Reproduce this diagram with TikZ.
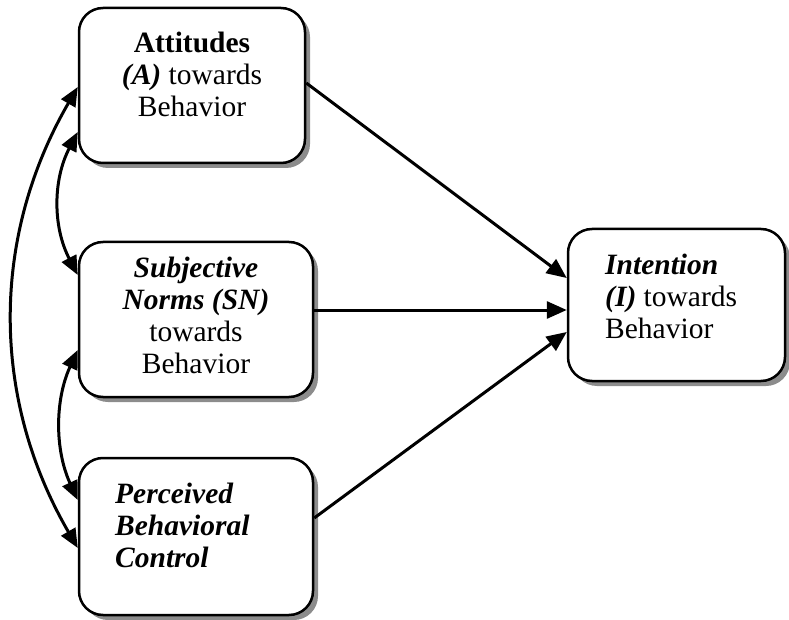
\documentclass[tikz,border=0pt]{standalone}
\usepackage{fontspec}
\setmainfont{Liberation Serif}
\usetikzlibrary{arrows.meta,shadows}
\begin{document}
\begin{tikzpicture}[x=1pt,y=-1pt,
  box/.style={draw=black, line width=2.5pt, rounded corners=24pt, fill=white, inner sep=0pt,
    drop shadow={shadow xshift=5pt, shadow yshift=-5pt, fill=black!45, opacity=1}},
  txt/.style={inner sep=0pt, font=\fontsize{29.5}{32}\selectfont},
  tip/.style={},
  link/.style={line width=3pt, -{Triangle[length=20pt,width=17pt]}},
  both/.style={line width=3pt, {Triangle[length=19pt,width=16pt]}-{Triangle[length=19pt,width=16pt]}}]
\useasboundingbox (0,0) rectangle (789,620);

% boxes
\node[box, minimum width=226pt, minimum height=155pt] (A)   at (192,85.5)  {};
\node[box, minimum width=234pt, minimum height=155pt] (SN)  at (196,319.5) {};
\node[box, minimum width=234pt, minimum height=157pt] (PBC) at (196,536.5) {};
\node[box, minimum width=217pt, minimum height=152pt] (I)   at (676.5,305) {};

% box texts (anchored at the baseline of the last line)
\node[txt, anchor=base, align=center] (tA) at (192,117)
  {\textbf{Attitudes}\\\textbf{\textit{(A)}} towards\\Behavior};
\node[txt, anchor=base, align=center] (tSN) at (196,373)
  {\textbf{\textit{Subjective}}\\\textbf{\textit{Norms (SN)}}\\towards\\Behavior};
\node[txt, anchor=base west, align=left] (tPBC) at (115,567)
  {\textbf{\textit{Perceived}}\\\textbf{\textit{Behavioral}}\\\textbf{\textit{Control}}};
\node[txt, anchor=base west, align=left] (tI) at (605,338)
  {\textbf{\textit{Intention}}\\\textbf{\textit{(I)}} towards\\Behavior};

% paths into the intention box
\draw[link] ([yshift=2.5pt]A.east) -- ([yshift=27pt]I.west);
\draw[link] ([yshift=9.5pt]SN.east) coordinate (snout) -- (I.west |- snout);
\draw[link] ([yshift=18.5pt]PBC.east) -- ([yshift=-27pt]I.west);

% correlations on the left
\draw[both] ([yshift=-1.5pt]A.west) .. controls +(-87,150) and +(-87,-150) .. ([yshift=-11.5pt]PBC.west);
\draw[both] ([yshift=-46.5pt]A.west) .. controls +(-25,48) and +(-25,-48) .. ([yshift=44.5pt]SN.west);
\draw[both] ([yshift=-30.5pt]SN.west) .. controls +(-23,50) and +(-23,-50) .. ([yshift=36.5pt]PBC.west);
\end{tikzpicture}
\end{document}
